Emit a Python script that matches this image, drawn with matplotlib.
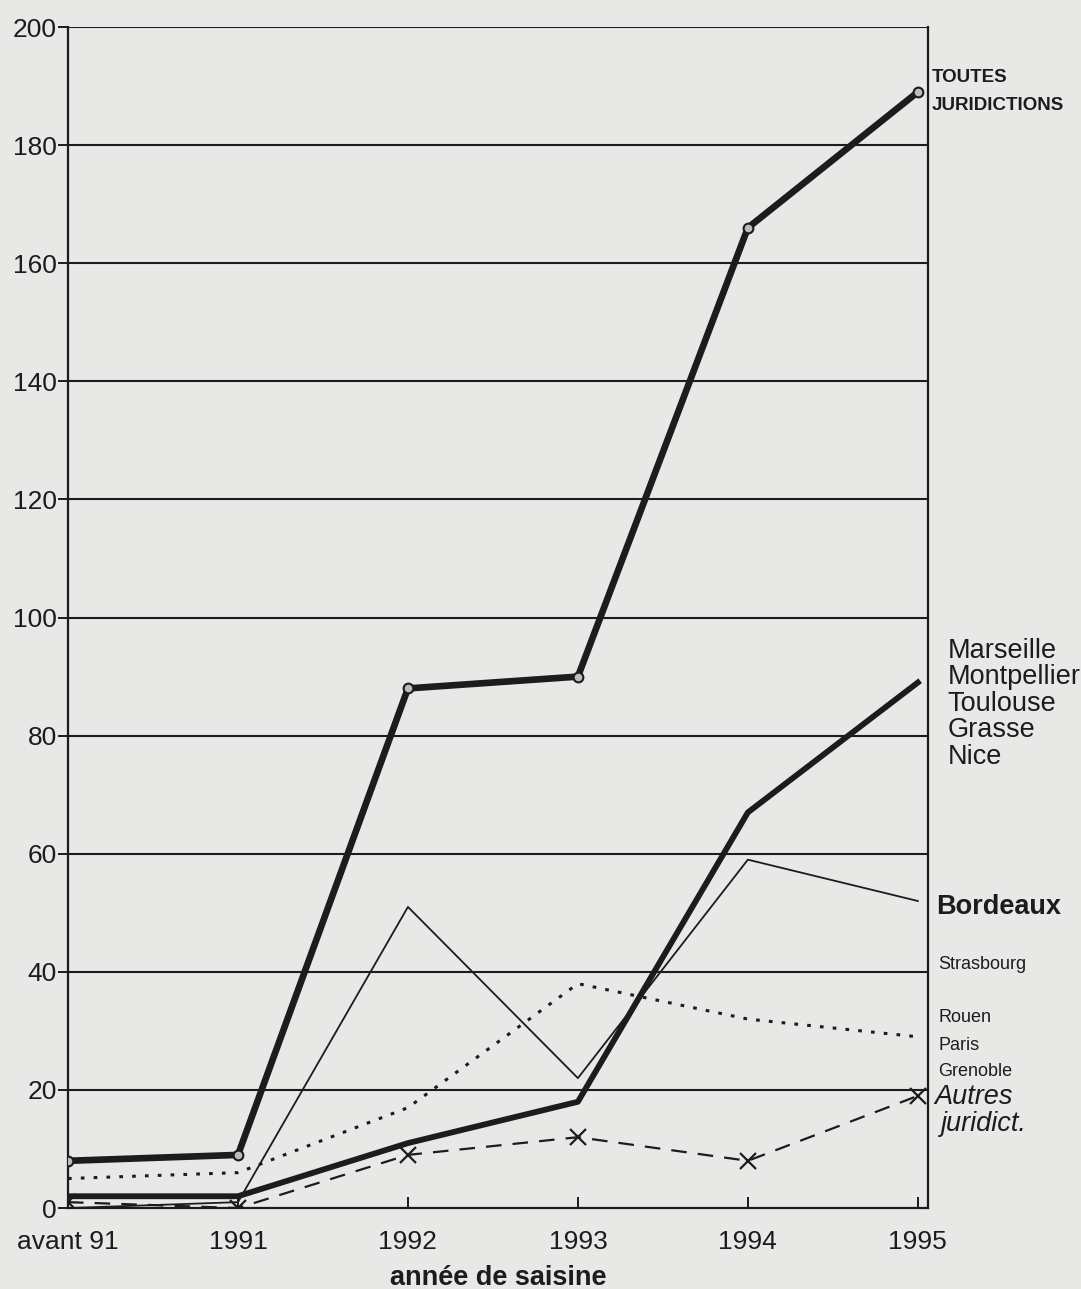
import numpy as np
import matplotlib.pyplot as plt
import matplotlib.transforms as mtransforms

plt.rcParams['font.family'] = ['Liberation Sans', 'DejaVu Sans']

# Data
annees = ['avant 91', '1991', '1992', '1993', '1994', '1995']
toutes = [8, 9, 88, 90, 166, 189]
marseille_groupe = [2, 2, 11, 18, 67, 89]
bordeaux = [0, 1, 51, 22, 59, 52]
strasbourg_groupe = [5, 6, 17, 38, 32, 29]
autres = [1, 0, 9, 12, 8, 19]

x = np.arange(len(annees))
bg = '#e8e8e6'
ink = '#1c1c1c'

fig = plt.figure(figsize=(10.81, 12.89), dpi=100, facecolor=bg)
ax = fig.add_axes([0.0629, 0.0628, 0.7956, 0.9162], facecolor=bg)

# horizontal grid lines every 20
for g in range(20, 201, 20):
    ax.axhline(g, color=ink, lw=1.5, zorder=1)

ax.plot(x, autres, color=ink, lw=1.6, ls=(0, (7, 5)), marker='x', ms=11, mew=1.6, zorder=3)
ax.plot(x, strasbourg_groupe, color=ink, lw=2.2, ls=(0, (1.2, 3)), zorder=3)
ax.plot(x, bordeaux, color=ink, lw=1.3, zorder=3)
ax.plot(x, marseille_groupe, color=ink, lw=4.2, zorder=4)
ax.plot(x, toutes, color=ink, lw=4.8, marker='o', ms=7, mfc='#bdbdbd', mec=ink, mew=1.5, zorder=5)

ax.set_xlim(0, 5.06)
ax.set_ylim(0, 200)
ax.set_yticks(range(0, 201, 20))
ax.set_xticks(x)
ax.set_xticklabels(annees)
ax.tick_params(axis='y', direction='out', length=7, width=1.4, labelsize=19, colors=ink, pad=1)
ax.tick_params(axis='x', direction='in', length=8, width=1.4, labelsize=19, colors=ink, pad=16)
for s in ax.spines.values():
    s.set_color(ink)
    s.set_linewidth(1.6)
ax.spines['top'].set_visible(False)

ax.set_xlabel('année de saisine', fontsize=19.5, fontweight='bold', color=ink, labelpad=8)

# labels on the right, y in data units
tr = mtransforms.blended_transform_factory(ax.transAxes, ax.transData)
ax.text(1.004, 191.5, 'TOUTES', transform=tr, fontsize=13.5, fontweight='bold', color=ink, va='center')
ax.text(1.004, 186.8, 'JURIDICTIONS', transform=tr, fontsize=13.5, fontweight='bold', color=ink, va='center')
for i, nom in enumerate(['Marseille', 'Montpellier', 'Toulouse', 'Grasse', 'Nice']):
    ax.text(1.023, 94.4 - i * 4.5, nom, transform=tr, fontsize=19.5, color=ink, va='center')
ax.text(1.009, 50.9, 'Bordeaux', transform=tr, fontsize=19.5, fontweight='bold', color=ink, va='center')
ax.text(1.012, 41.2, 'Strasbourg', transform=tr, fontsize=13, color=ink, va='center')
ax.text(1.012, 32.3, 'Rouen', transform=tr, fontsize=13, color=ink, va='center')
ax.text(1.012, 27.6, 'Paris', transform=tr, fontsize=13, color=ink, va='center')
ax.text(1.012, 23.2, 'Grenoble', transform=tr, fontsize=13, color=ink, va='center')
ax.text(1.007, 18.8, 'Autres', transform=tr, fontsize=19.5, style='italic', color=ink, va='center')
ax.text(1.014, 14.2, 'juridict.', transform=tr, fontsize=19.5, style='italic', color=ink, va='center')

fig.savefig('out.png', dpi=100, facecolor=bg)
